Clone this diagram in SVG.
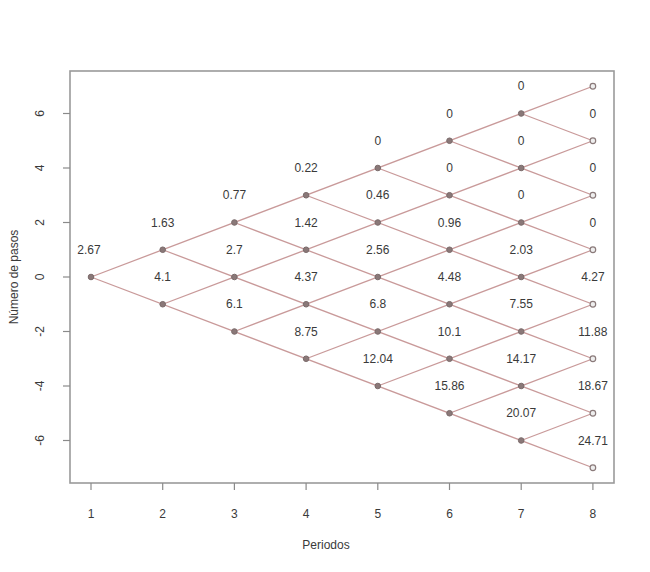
<svg xmlns="http://www.w3.org/2000/svg" width="650" height="572" viewBox="0 0 650 572">
<style>
text{font-family:"Liberation Sans",Arial,sans-serif;font-size:12px;fill:#3a3a3a;text-anchor:middle}
.edge{stroke:#c99a9a;stroke-width:1.3;fill:none}
.n{fill:#8a7878;stroke:#7a6a6a;stroke-width:1}
.e{fill:#eee;stroke:#8a7a7a;stroke-width:1.2}
.ax{stroke:#9a9a9a;stroke-width:1.6;fill:none}
.tk{stroke:#8a8a8a;stroke-width:1.2}
</style>
<rect width="650" height="572" fill="#fff"/>
<g id="axes">
<rect class="ax" x="70" y="71" width="544" height="412"/>
<g class="tk">
<line x1="91" y1="483" x2="91" y2="490"/><line x1="162.7" y1="483" x2="162.7" y2="490"/><line x1="234.4" y1="483" x2="234.4" y2="490"/><line x1="306.1" y1="483" x2="306.1" y2="490"/><line x1="377.8" y1="483" x2="377.8" y2="490"/><line x1="449.5" y1="483" x2="449.5" y2="490"/><line x1="521.2" y1="483" x2="521.2" y2="490"/><line x1="592.9" y1="483" x2="592.9" y2="490"/>
<line x1="70" y1="113.5" x2="63" y2="113.5"/><line x1="70" y1="168" x2="63" y2="168"/><line x1="70" y1="222.5" x2="63" y2="222.5"/><line x1="70" y1="277" x2="63" y2="277"/><line x1="70" y1="331.5" x2="63" y2="331.5"/><line x1="70" y1="386" x2="63" y2="386"/><line x1="70" y1="440.5" x2="63" y2="440.5"/>
</g>
<text x="91" y="518">1</text><text x="162.7" y="518">2</text><text x="234.4" y="518">3</text><text x="306.1" y="518">4</text><text x="377.8" y="518">5</text><text x="449.5" y="518">6</text><text x="521.2" y="518">7</text><text x="592.9" y="518">8</text>
<text transform="translate(44,113.5) rotate(-90)">6</text>
<text transform="translate(44,168) rotate(-90)">4</text>
<text transform="translate(44,222.5) rotate(-90)">2</text>
<text transform="translate(44,277) rotate(-90)">0</text>
<text transform="translate(44,331.5) rotate(-90)">-2</text>
<text transform="translate(44,386) rotate(-90)">-4</text>
<text transform="translate(44,440.5) rotate(-90)">-6</text>
<text x="326" y="549">Periodos</text>
<text transform="translate(18,277) rotate(-90)">Número de pasos</text>
</g>
<g id="connectors">
<line class="edge" x1="91" y1="277" x2="592.9" y2="86.25"/>
<line class="edge" x1="162.7" y1="304.25" x2="592.9" y2="140.75"/>
<line class="edge" x1="234.4" y1="331.5" x2="592.9" y2="195.25"/>
<line class="edge" x1="306.1" y1="358.75" x2="592.9" y2="249.75"/>
<line class="edge" x1="377.8" y1="386" x2="592.9" y2="304.25"/>
<line class="edge" x1="449.5" y1="413.25" x2="592.9" y2="358.75"/>
<line class="edge" x1="521.2" y1="440.5" x2="592.9" y2="413.25"/>
<line class="edge" x1="91" y1="277" x2="592.9" y2="467.75"/>
<line class="edge" x1="162.7" y1="249.75" x2="592.9" y2="413.25"/>
<line class="edge" x1="234.4" y1="222.5" x2="592.9" y2="358.75"/>
<line class="edge" x1="306.1" y1="195.25" x2="592.9" y2="304.25"/>
<line class="edge" x1="377.8" y1="168" x2="592.9" y2="249.75"/>
<line class="edge" x1="449.5" y1="140.75" x2="592.9" y2="195.25"/>
<line class="edge" x1="521.2" y1="113.5" x2="592.9" y2="140.75"/>
</g>
<g id="p1n0"><circle class="n" cx="91" cy="277" r="2.8"/><text x="89" y="254">2.67</text></g>
<g id="p2n1"><circle class="n" cx="162.7" cy="249.75" r="2.8"/><text x="162.7" y="226.5">1.63</text></g>
<g id="p2n-1"><circle class="n" cx="162.7" cy="304.25" r="2.8"/><text x="162.7" y="281">4.1</text></g>
<g id="p3n2"><circle class="n" cx="234.4" cy="222.5" r="2.8"/><text x="234.4" y="199.25">0.77</text></g>
<g id="p3n0"><circle class="n" cx="234.4" cy="277" r="2.8"/><text x="234.4" y="253.75">2.7</text></g>
<g id="p3n-2"><circle class="n" cx="234.4" cy="331.5" r="2.8"/><text x="234.4" y="308.25">6.1</text></g>
<g id="p4n3"><circle class="n" cx="306.1" cy="195.25" r="2.8"/><text x="306.1" y="172">0.22</text></g>
<g id="p4n1"><circle class="n" cx="306.1" cy="249.75" r="2.8"/><text x="306.1" y="226.5">1.42</text></g>
<g id="p4n-1"><circle class="n" cx="306.1" cy="304.25" r="2.8"/><text x="306.1" y="281">4.37</text></g>
<g id="p4n-3"><circle class="n" cx="306.1" cy="358.75" r="2.8"/><text x="306.1" y="335.5">8.75</text></g>
<g id="p5n4"><circle class="n" cx="377.8" cy="168" r="2.8"/><text x="377.8" y="144.75">0</text></g>
<g id="p5n2"><circle class="n" cx="377.8" cy="222.5" r="2.8"/><text x="377.8" y="199.25">0.46</text></g>
<g id="p5n0"><circle class="n" cx="377.8" cy="277" r="2.8"/><text x="377.8" y="253.75">2.56</text></g>
<g id="p5n-2"><circle class="n" cx="377.8" cy="331.5" r="2.8"/><text x="377.8" y="308.25">6.8</text></g>
<g id="p5n-4"><circle class="n" cx="377.8" cy="386" r="2.8"/><text x="377.8" y="362.75">12.04</text></g>
<g id="p6n5"><circle class="n" cx="449.5" cy="140.75" r="2.8"/><text x="449.5" y="117.5">0</text></g>
<g id="p6n3"><circle class="n" cx="449.5" cy="195.25" r="2.8"/><text x="449.5" y="172">0</text></g>
<g id="p6n1"><circle class="n" cx="449.5" cy="249.75" r="2.8"/><text x="449.5" y="226.5">0.96</text></g>
<g id="p6n-1"><circle class="n" cx="449.5" cy="304.25" r="2.8"/><text x="449.5" y="281">4.48</text></g>
<g id="p6n-3"><circle class="n" cx="449.5" cy="358.75" r="2.8"/><text x="449.5" y="335.5">10.1</text></g>
<g id="p6n-5"><circle class="n" cx="449.5" cy="413.25" r="2.8"/><text x="449.5" y="390">15.86</text></g>
<g id="p7n6"><circle class="n" cx="521.2" cy="113.5" r="2.8"/><text x="521.2" y="90.25">0</text></g>
<g id="p7n4"><circle class="n" cx="521.2" cy="168" r="2.8"/><text x="521.2" y="144.75">0</text></g>
<g id="p7n2"><circle class="n" cx="521.2" cy="222.5" r="2.8"/><text x="521.2" y="199.25">0</text></g>
<g id="p7n0"><circle class="n" cx="521.2" cy="277" r="2.8"/><text x="521.2" y="253.75">2.03</text></g>
<g id="p7n-2"><circle class="n" cx="521.2" cy="331.5" r="2.8"/><text x="521.2" y="308.25">7.55</text></g>
<g id="p7n-4"><circle class="n" cx="521.2" cy="386" r="2.8"/><text x="521.2" y="362.75">14.17</text></g>
<g id="p7n-6"><circle class="n" cx="521.2" cy="440.5" r="2.8"/><text x="521.2" y="417.25">20.07</text></g>
<g id="p8n7"><circle class="e" cx="592.9" cy="86.25" r="2.8"/></g>
<g id="p8n5"><circle class="e" cx="592.9" cy="140.75" r="2.8"/><text x="592.9" y="117.5">0</text></g>
<g id="p8n3"><circle class="e" cx="592.9" cy="195.25" r="2.8"/><text x="592.9" y="172">0</text></g>
<g id="p8n1"><circle class="e" cx="592.9" cy="249.75" r="2.8"/><text x="592.9" y="226.5">0</text></g>
<g id="p8n-1"><circle class="e" cx="592.9" cy="304.25" r="2.8"/><text x="592.9" y="281">4.27</text></g>
<g id="p8n-3"><circle class="e" cx="592.9" cy="358.75" r="2.8"/><text x="592.9" y="335.5">11.88</text></g>
<g id="p8n-5"><circle class="e" cx="592.9" cy="413.25" r="2.8"/><text x="592.9" y="390">18.67</text></g>
<g id="p8n-7"><circle class="e" cx="592.9" cy="467.75" r="2.8"/><text x="592.9" y="444.5">24.71</text></g>
</svg>
